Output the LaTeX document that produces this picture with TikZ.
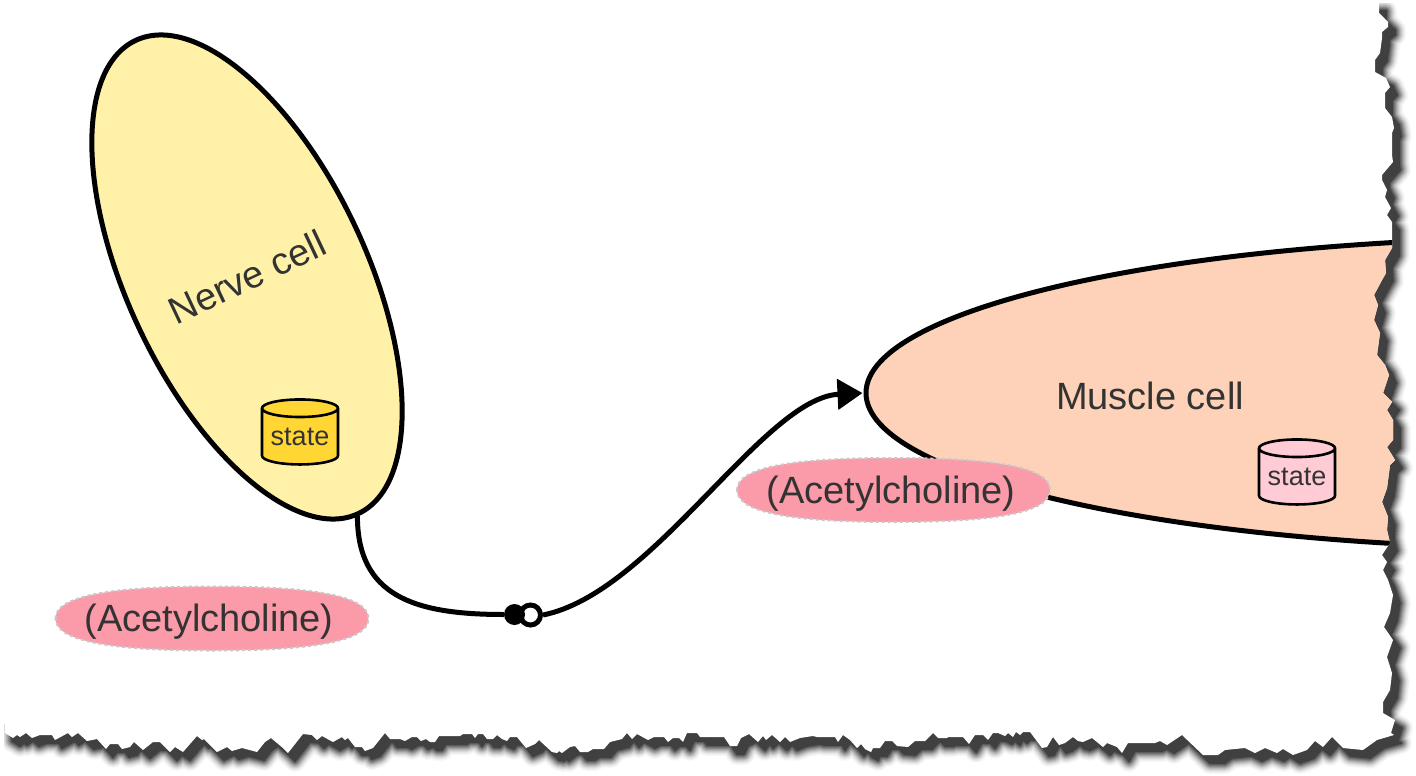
\documentclass[tikz,border=0pt]{standalone}
\usepackage{fontspec}
\setmainfont{Liberation Sans}
\usetikzlibrary{shapes.geometric,arrows.meta}
\definecolor{shadowc}{HTML}{404040}
\definecolor{nervefill}{HTML}{FFF2A8}
\definecolor{musclefill}{HTML}{FDD2B8}
\definecolor{statey}{HTML}{FFD633}
\definecolor{statep}{HTML}{FFCCD5}
\definecolor{acefill}{HTML}{FB9AA8}
\definecolor{acedash}{HTML}{C8C8C8}
\definecolor{inkc}{HTML}{333333}
\newcommand{\paperedge}{(1379,3) -- (1379,13) -- (1388,22) -- (1388,27) -- (1382,32) -- (1382,38) -- (1380,53) -- (1375,60) -- (1375,72) -- (1386,78) -- (1390,87) -- (1385,93) -- (1385,108) -- (1392,117) -- (1394,128) -- (1392,133) -- (1392,155) -- (1393,162) -- (1382,175) -- (1382,180) -- (1387,190) -- (1385,197) -- (1391,208) -- (1387,215) -- (1392,222) -- (1392,248) -- (1385,260) -- (1386,273) -- (1382,280) -- (1374,295) -- (1378,305) -- (1374,320) -- (1380,333) -- (1377,355) -- (1385,365) -- (1389,375) -- (1383,393) -- (1392,402) -- (1387,410) -- (1393,420) -- (1393,440) -- (1387,447) -- (1395,460) -- (1390,465) -- (1387,488) -- (1382,502) -- (1388,517) -- (1387,530) -- (1390,543) -- (1382,555) -- (1387,562) -- (1383,570) -- (1388,580) -- (1393,595) -- (1390,613) -- (1384,627) -- (1393,640) -- (1387,657) -- (1392,673) -- (1390,690) -- (1383,702) -- (1383,713) -- (1395,720) -- (1391,733) -- (1394,735) -- (1377,740) -- (1363,750) -- (1343,748) -- (1332,737) -- (1323,747) -- (1315,741) -- (1307,750) -- (1293,755) -- (1283,749) -- (1277,753) -- (1265,748) -- (1255,753) -- (1245,748) -- (1225,750) -- (1218,755) -- (1203,755) -- (1182,735) -- (1167,745) -- (1160,741) -- (1155,743) -- (1128,743) -- (1122,753) -- (1117,747) -- (1107,743) -- (1103,747) -- (1092,738) -- (1083,742) -- (1078,741) -- (1073,737) -- (1065,743) -- (1059,745) -- (1053,737) -- (1047,747) -- (1042,748) -- (1030,732) -- (1023,732) -- (1020,735) -- (1016,732) -- (1013,737) -- (1008,733) -- (1005,736) -- (998,733) -- (993,733) -- (988,740) -- (983,735) -- (975,735) -- (969,744) -- (963,737) -- (948,737) -- (947,738) -- (938,738) -- (933,733) -- (925,741) -- (915,741) -- (908,747) -- (897,746) -- (892,741) -- (885,741) -- (880,748) -- (873,748) -- (871,752) -- (865,749) -- (861,744) -- (857,748) -- (850,740) -- (843,735) -- (838,742) -- (835,737) -- (817,737) -- (813,736) -- (800,738) -- (790,742) -- (785,737) -- (780,742) -- (772,735) -- (766,740) -- (763,736) -- (758,742) -- (749,734) -- (741,738) -- (737,746) -- (730,746) -- (724,737) -- (700,737) -- (697,733) -- (687,733) -- (683,742) -- (679,738) -- (673,738) -- (668,742) -- (664,737) -- (654,737) -- (648,740) -- (637,734) -- (632,739) -- (627,733) -- (622,739) -- (610,742) -- (604,749) -- (593,749) -- (588,752) -- (580,752) -- (575,746) -- (570,747) -- (562,753) -- (559,751) -- (557,753) -- (552,752) -- (539,740) -- (535,744) -- (526,748) -- (517,737) -- (510,737) -- (507,741) -- (502,739) -- (497,735) -- (493,739) -- (487,739) -- (483,734) -- (478,734) -- (475,738) -- (472,734) -- (463,734) -- (460,736) -- (439,736) -- (435,742) -- (430,742) -- (426,739) -- (421,741) -- (417,737) -- (412,737) -- (405,741) -- (400,739) -- (390,739) -- (385,733) -- (373,748) -- (365,751) -- (362,747) -- (355,747) -- (348,738) -- (345,740) -- (342,737) -- (333,742) -- (322,736) -- (317,740) -- (312,735) -- (303,734) -- (288,753) -- (283,748) -- (271,738) -- (265,742) -- (257,752) -- (242,748) -- (232,751) -- (227,747) -- (217,752) -- (204,739) -- (202,740) -- (197,736) -- (183,752) -- (175,747) -- (170,752) -- (160,742) -- (153,742) -- (143,750) -- (134,742) -- (130,747) -- (122,749) -- (118,744) -- (110,744) -- (106,749) -- (97,739) -- (87,741) -- (78,733) -- (72,737) -- (68,733) -- (55,740) -- (52,735) -- (40,735) -- (32,738) -- (26,733) -- (20,737) -- (17,735) -- (13,738) -- (5,733) -- (5,3) -- cycle}
% full ellipse-like blob, slightly squarer than a true ellipse
\newcommand{\moleculeblob}[1]{%
  \path[fill=acefill,draw=acedash,line width=2pt,dash pattern=on 3pt off 3pt,shift={(#1)}]
    (-156.5,0) .. controls (-156.5,-23) and (-100,-32) .. (0,-32)
    .. controls (100,-32) and (156.5,-23) .. (156.5,0)
    .. controls (156.5,23) and (100,32) .. (0,32)
    .. controls (-100,32) and (-156.5,23) .. cycle;}
\tikzset{
  membrane/.style={ellipse,draw=black,line width=5pt,inner sep=0pt},
  compart/.style={text=inkc,font=\fontsize{38}{38}\selectfont,inner sep=0pt},
  statebox/.style={cylinder,shape border rotate=90,draw=black,line width=2.6pt,aspect=0.3,
    minimum width=76pt,minimum height=65pt,inner sep=0pt,cylinder uses custom fill,
    text=inkc,font=\fontsize{27}{27}\selectfont},
  molecule/.style={inner sep=0pt,text=inkc,font=\fontsize{38}{38}\selectfont},
  link/.style={draw=black,line width=5pt},
}
\begin{document}
\begin{tikzpicture}[x=1pt,y=-1pt]
\useasboundingbox (0,0) rectangle (1416,776);
% torn-paper shadow
\begin{scope}[shift={(7,8)}]
\foreach \w/\p in {22/3,20/7,18/12,16/19,14/27,12/37,10/48,8/60,6/72,4/84,2/94,0/100}
  \path[fill=shadowc!\p!white,draw=shadowc!\p!white,line width=\w pt,line join=round] \paperedge;
\end{scope}
\fill[white] \paperedge;
\fill[white] (0,0) rectangle (6,724);
\fill[white] (0,724) rectangle (4,776);
\fill[white] (0,0) rectangle (1416,3);
\begin{scope}
\clip \paperedge;
\node[membrane,fill=musclefill,minimum width=1410pt,minimum height=311pt] (muscle) at (1571,393) {};
\end{scope}
\node[membrane,fill=nervefill,minimum width=234pt,minimum height=523pt,rotate=25.2,text=inkc,font=\fontsize{38}{38}\selectfont] (nerve) at (247,277) {Nerve cell};
\node[compart] (musclelabel) at (1150,396) {Muscle cell};
\node[statebox,cylinder body fill=statey,cylinder end fill=statey] (nervestate) at (300,437) {state};
\node[statebox,cylinder body fill=statep,cylinder end fill=statep] (musclestate) at (1297,477) {state};
% connector
\node[circle,fill=white,draw=black,line width=5pt,minimum size=20pt,inner sep=0pt] (receive) at (530.5,615) {};
\node[circle,fill=black,minimum size=21pt,inner sep=0pt] (release) at (514.5,614.5) {};
\draw[link] ([xshift=-2pt]nerve.south) .. controls +(0,80) and +(-90,0) .. (release.west);
\draw[link,-{Triangle[length=25pt,width=30pt]},shorten >=1pt] (receive.east) .. controls +(110,-22) and +(-100,5) .. (muscle.west);
\moleculeblob{212,618.5}
\moleculeblob{893.5,490}
\node[molecule] (ach1) at (209,622) {(Acetylcholine)};
\node[molecule] (ach2) at (891,493.5) {(Acetylcholine)};
\end{tikzpicture}
\end{document}
